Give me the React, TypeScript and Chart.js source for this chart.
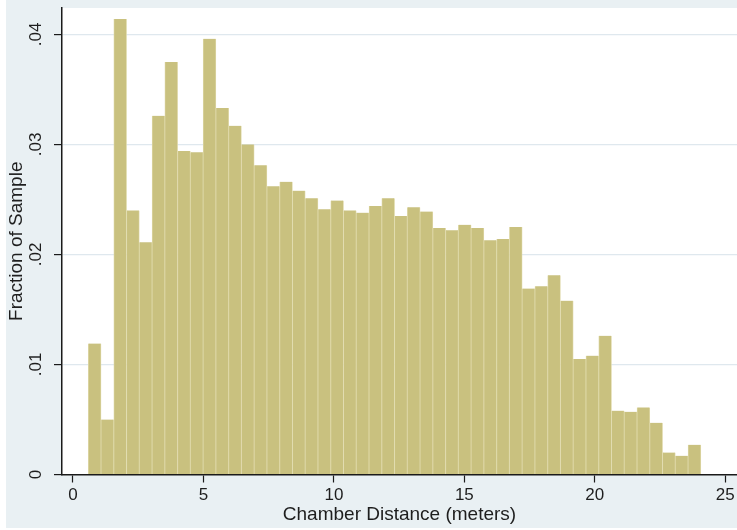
import React, { useEffect, useRef } from 'react';
import { Chart, registerables } from 'chart.js';

Chart.register(...registerables);

// Histogram bins: first bin starts at binStart, each bin binWidth wide
const binStart = 0.587;
const binWidth = 0.4891;

// Fraction of sample in each bin
const fractions = [
  0.0119, 0.0050, 0.0414, 0.0240, 0.0211, 0.0326, 0.0375, 0.0294,
  0.0293, 0.0396, 0.0333, 0.0317, 0.0300, 0.0281, 0.0262, 0.0266,
  0.0258, 0.0251, 0.0241, 0.0249, 0.0240, 0.0238, 0.0244, 0.0251,
  0.0235, 0.0243, 0.0239, 0.0224, 0.0222, 0.0227, 0.0224, 0.0213,
  0.0214, 0.0225, 0.0169, 0.0171, 0.0181, 0.0158, 0.0105, 0.0108,
  0.0126, 0.0058, 0.0057, 0.0061, 0.0047, 0.0020, 0.0017, 0.0027,
];

const xTicks = [0, 5, 10, 15, 20, 25];
const xTickLabels = ['0', '5', '10', '15', '20', '25'];
const yTicks = [0, 0.01, 0.02, 0.03, 0.04];
const yTickLabels = ['0', '.01', '.02', '.03', '.04'];

const xTitle = 'Chamber Distance (meters)';
const yTitle = 'Fraction of Sample';

const FONT = '"Liberation Sans", Arial, Helvetica, sans-serif';
const TEXT = '#1e1e1e';
const AXIS = '#1a1a1a';

export default function App() {
  const ref = useRef<HTMLCanvasElement>(null);

  useEffect(() => {
    const canvas = ref.current;
    if (!canvas) return;

    const bgPlugin = {
      id: 'bgPlugin',
      beforeDraw(chart: any) {
        const { ctx, chartArea: a, width, height } = chart;
        ctx.save();
        ctx.fillStyle = '#ffffff';
        ctx.fillRect(0, 0, width, height);
        ctx.fillStyle = 'rgb(233,240,243)';
        ctx.fillRect(6, 0, width - 6, height - 2);
        ctx.fillStyle = '#ffffff';
        ctx.fillRect(a.left, a.top, a.right - a.left, a.bottom - a.top);
        ctx.restore();
      },
    };

    const chart = new Chart(canvas, {
      type: 'bar',
      data: {
        datasets: [
          {
            data: fractions.map((y, i) => ({ x: binStart + binWidth * (i + 0.5), y })),
            backgroundColor: '#c9c17f',
            borderColor: '#e0daab',
            borderWidth: { left: 0.8, right: 0.8, top: 0, bottom: 0 },
            borderSkipped: false,
            barPercentage: 1,
            categoryPercentage: 1,
            grouped: false,
          } as any,
        ],
      },
      options: {
        responsive: false,
        animation: false,
        devicePixelRatio: 1,
        layout: { padding: { top: 8, left: 0, right: 0, bottom: 0 } },
        plugins: {
          legend: { display: false },
          tooltip: { enabled: false },
        },
        scales: {
          x: {
            type: 'linear',
            min: -0.42,
            max: 25.45,
            offset: false,
            afterBuildTicks: (s: any) => {
              s.ticks = xTicks.map((v) => ({ value: v }));
            },
            afterFit: (s: any) => {
              s.height = 55.5;
              s.paddingLeft = 0;
              s.paddingRight = 0;
            },
            grid: {
              offset: false,
              drawOnChartArea: false,
              drawTicks: true,
              tickLength: 8,
              tickColor: AXIS,
              tickWidth: 1.2,
            },
            border: { display: true, color: AXIS, width: 1.5 },
            ticks: {
              autoSkip: false,
              maxRotation: 0,
              minRotation: 0,
              padding: 3,
              color: TEXT,
              font: { family: FONT, size: 17 },
              callback: (_v: any, i: number) => xTickLabels[i],
            },
            title: {
              display: true,
              text: xTitle,
              color: TEXT,
              font: { family: FONT, size: 19 },
              padding: { top: 0, bottom: 3.6 },
            },
          } as any,
          y: {
            type: 'linear',
            min: 0,
            max: 0.0424,
            afterBuildTicks: (s: any) => {
              s.ticks = yTicks.map((v) => ({ value: v }));
            },
            afterFit: (s: any) => {
              s.width = 62;
              s.paddingTop = 0;
              s.paddingBottom = 0;
            },
            grid: {
              color: (c: any) => (c.tick && c.tick.value === 0 ? 'rgba(0,0,0,0)' : '#dfe8ee'),
              lineWidth: 1.2,
              drawTicks: true,
              tickLength: 8,
              tickColor: AXIS,
              tickWidth: 1.2,
            },
            border: { display: true, color: AXIS, width: 1.5 },
            ticks: {
              autoSkip: false,
              minRotation: 90,
              maxRotation: 90,
              crossAlign: 'center',
              padding: 6,
              color: TEXT,
              font: { family: FONT, size: 17 },
              callback: (_v: any, i: number) => yTickLabels[i],
            },
            title: {
              display: true,
              text: yTitle,
              color: TEXT,
              font: { family: FONT, size: 19 },
              padding: { top: 5.6, bottom: 0 },
            },
          } as any,
        },
      },
      plugins: [bgPlugin],
    });

    return () => {
      chart.destroy();
    };
  }, []);

  return (
    <div style={{ position: 'fixed', left: 0, top: 0, width: 737, height: 530 }}>
      <canvas ref={ref} width={737} height={530} style={{ width: 737, height: 530, display: 'block' }} />
    </div>
  );
}
